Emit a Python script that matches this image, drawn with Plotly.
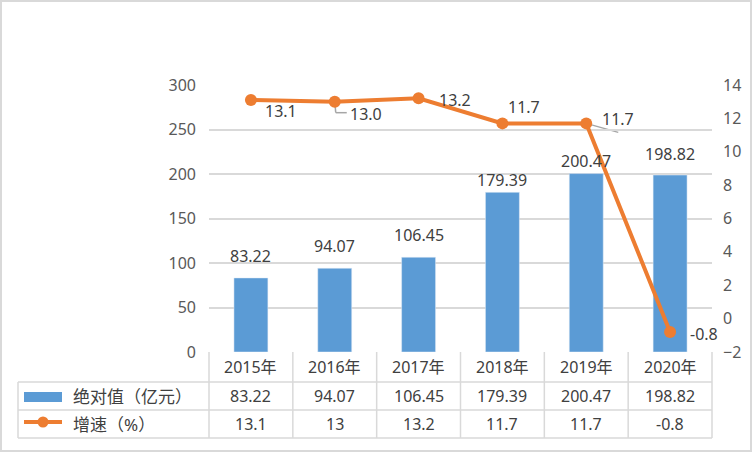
import plotly.graph_objects as go

# data
years = ["2015年", "2016年", "2017年", "2018年", "2019年", "2020年"]
absolute = [83.22, 94.07, 106.45, 179.39, 200.47, 198.82]
growth = [13.1, 13.0, 13.2, 11.7, 11.7, -0.8]
growth_table = ["13.1", "13", "13.2", "11.7", "11.7", "-0.8"]
bar_name = "绝对值（亿元）"
line_name = "增速（%）"

# label placement (pixel offsets from the mark)
bar_label_dy = [22, 22, 22, 12, 13, 21]
line_label_dx = [30, 31, 36, 22, 32, 34]
line_label_dy = [-11, -12, -2, 16, 4, -2]

W, H = 752, 452
L, R, T, B = 209, 712, 85, 352   # plot area in pixels
BLUE = "#5B9BD5"
ORANGE = "#ED7D31"
GRID = "#D9D9D9"
TXT = "#404040"
FONT = "Noto Sans, Noto Sans CJK SC, sans-serif"


def px(x):
    return (x - L) / (R - L)


def py(y):
    return (B - y) / (B - T)


fig = go.Figure()
fig.add_trace(go.Bar(x=years, y=absolute, marker_color=BLUE, name=bar_name,
                     showlegend=False))
fig.add_trace(go.Scatter(x=years, y=growth, yaxis="y2", mode="lines+markers",
                         line=dict(color=ORANGE, width=4),
                         marker=dict(color=ORANGE, size=12),
                         name=line_name, showlegend=False))

ann = []
for i, v in enumerate(absolute):
    ann.append(dict(x=years[i], y=v, xref="x", yref="y", text=f"{v:.2f}",
                    showarrow=False, yshift=bar_label_dy[i],
                    font=dict(size=16, color=TXT)))
for i, v in enumerate(growth):
    ann.append(dict(x=years[i], y=v, xref="x", yref="y2", text=f"{v:.1f}",
                    showarrow=False, xshift=line_label_dx[i], yshift=line_label_dy[i],
                    font=dict(size=16, color=TXT)))

# data table below the plot
cw = (R - L) / len(years)
rows_y = [367, 396, 424]
for i, yr in enumerate(years):
    cx = px(L + cw * (i + 0.5))
    for ry, txt in zip(rows_y, [yr, f"{absolute[i]:.2f}", growth_table[i]]):
        ann.append(dict(x=cx, y=py(ry), xref="paper", yref="paper", text=txt,
                        xanchor="center", yanchor="middle",
                        showarrow=False, font=dict(size=16, color=TXT)))
for ry, txt in zip(rows_y[1:], [bar_name, line_name]):
    ann.append(dict(x=px(71), y=py(ry), xref="paper", yref="paper", text=txt,
                    xanchor="left", yanchor="middle", showarrow=False,
                    font=dict(size=17, color=TXT)))

shapes = []
tl = dict(color=GRID, width=1.5)
for ry in [382, 410, 438]:
    shapes.append(dict(type="line", xref="paper", yref="paper",
                       x0=px(18), x1=px(R), y0=py(ry), y1=py(ry), line=tl))
for k in range(len(years) + 1):
    x = px(L + cw * k)
    shapes.append(dict(type="line", xref="paper", yref="paper",
                       x0=x, x1=x, y0=py(B), y1=py(438), line=tl))
shapes.append(dict(type="line", xref="paper", yref="paper",
                   x0=px(18), x1=px(18), y0=py(382), y1=py(438), line=tl))
# legend keys inside the table
shapes.append(dict(type="rect", xref="paper", yref="paper", x0=px(24), x1=px(62),
                   y0=py(402), y1=py(392), fillcolor=BLUE, line=dict(width=0)))
shapes.append(dict(type="line", xref="paper", yref="paper", x0=px(24), x1=px(62),
                   y0=py(422), y1=py(422), line=dict(color=ORANGE, width=4)))
shapes.append(dict(type="circle", xref="paper", yref="paper", x0=px(37.5), x1=px(48.5),
                   y0=py(427.5), y1=py(416.5), fillcolor=ORANGE, line=dict(width=0)))
# leader lines
lead = dict(color="#A6A6A6", width=1.5)
for idx, segs in [(1, [(0, 0, 1, -11), (1, -11, 12, -11)]), (4, [(0, 0, 32, -9)])]:
    for x0, y0, x1, y1 in segs:
        shapes.append(dict(type="line", xref="x", yref="y2", xsizemode="pixel",
                           ysizemode="pixel", xanchor=idx, yanchor=growth[idx],
                           x0=x0, y0=y0, x1=x1, y1=y1, line=lead, layer="below"))
# outer chart border
shapes.append(dict(type="rect", xref="paper", yref="paper", x0=px(1), x1=px(751),
                   y0=py(451), y1=py(1), line=dict(color=GRID, width=2)))

fig.update_layout(
    width=W, height=H,
    margin=dict(l=L, r=W - R, t=T, b=H - B),
    paper_bgcolor="white", plot_bgcolor="white",
    font=dict(family=FONT, size=16, color="#595959"),
    bargap=0.595,
    xaxis=dict(showticklabels=False, showgrid=False, zeroline=False,
               range=[-0.5, 5.5]),
    yaxis=dict(range=[0, 300], dtick=50, gridcolor=GRID, gridwidth=1.5,
               zeroline=False, showline=False, ticks="", ticklabelstandoff=12),
    yaxis2=dict(range=[-2, 14], dtick=2, overlaying="y", side="right",
                showgrid=False, zeroline=False, showline=False, ticks="",
                ticklabelstandoff=10),
    annotations=ann,
    shapes=shapes,
)

# drop the default page margin so the chart sits at the window origin
fig.write_html("out.html", config={"displayModeBar": False},
               post_script="document.body.style.margin='0';")
